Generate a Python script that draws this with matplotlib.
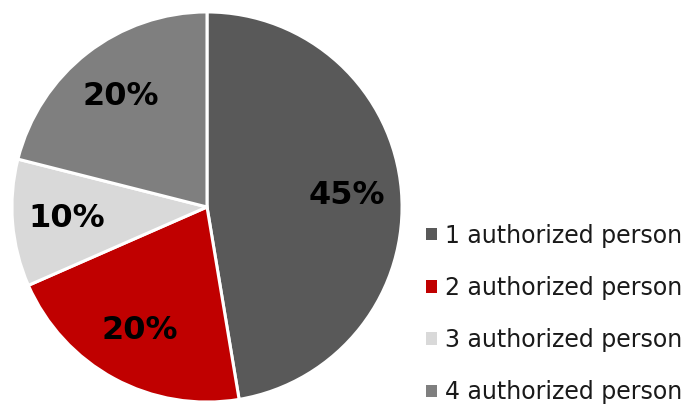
import matplotlib.pyplot as plt
from matplotlib.patches import Patch

labels = ["1 authorized person", "2 authorized person", "3 authorized person", "4 authorized person"]
values = [45, 20, 10, 20]
colors = ["#595959", "#C00000", "#D9D9D9", "#7F7F7F"]

plt.rcParams['font.family'] = ['DejaVu Sans']

fig = plt.figure(figsize=(6.94, 4.08), dpi=100)
# pie centre ~ (207, 207) px, radius ~ 197 px
ax = fig.add_axes([10 / 694, 4 / 408, 394 / 694, 394 / 408])
total = sum(values)
wedges, texts, autotexts = ax.pie(values, colors=colors, startangle=90, counterclock=False,
                                  autopct=lambda p: "%d%%" % round(p * total / 100),
                                  pctdistance=0.72,
                                  wedgeprops=dict(edgecolor="white", linewidth=2.2),
                                  textprops=dict(fontsize=23, fontweight="bold", color="black"))
ax.set_xlim(-1.01, 1.01)
ax.set_ylim(-1.01, 1.01)
ax.set_aspect("equal")

handles = [Patch(facecolor=c, edgecolor="none") for c in colors]
fig.legend(handles, labels, loc="center left", bbox_to_anchor=(405 / 694, 1 - 314 / 408),
           frameon=False, fontsize=17, labelspacing=1.2, handlelength=0.45, handleheight=0.45,
           handletextpad=0.35, labelcolor="#1a1a1a")

fig.savefig("out.png", dpi=100)
